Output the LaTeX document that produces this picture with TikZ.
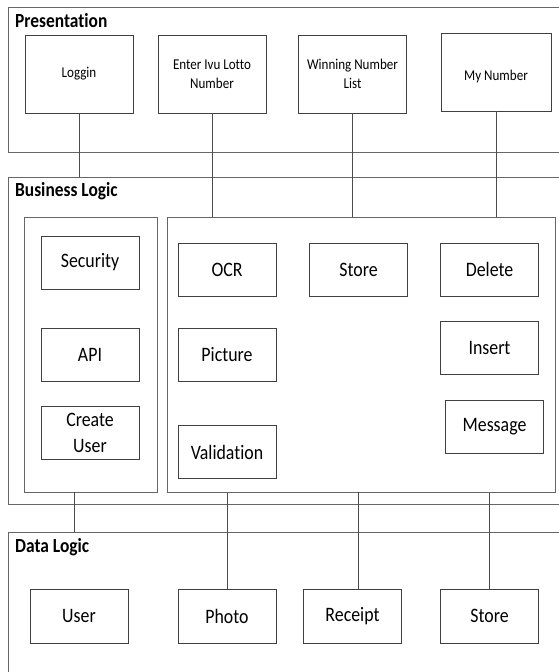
\documentclass[tikz,border=0pt]{standalone}
\usepackage{fontspec}
\setmainfont[FakeStretch=0.87, Ligatures=NoCommon]{Carlito}
\begin{document}
\begin{tikzpicture}[x=1pt,y=-1pt,
  frame/.style={draw=black!60, line width=0.9pt, anchor=north west, inner sep=0pt},
  pbox/.style={draw=black!75, line width=0.9pt, minimum width=108pt, minimum height=78pt,
    align=center, font=\fontsize{15}{19}\selectfont, inner sep=0pt},
  bbox/.style={draw=black!75, line width=0.9pt, minimum width=98pt, minimum height=53pt,
    align=center, font=\fontsize{20.5}{26}\selectfont, inner sep=0pt},
  title/.style={anchor=west, font=\fontsize{20}{22}\selectfont\bfseries, inner sep=0pt},
  link/.style={draw=black!70, line width=0.9pt}]
\useasboundingbox (0,0) rectangle (558,672);

% layer frames
\node[frame, minimum width=560pt, minimum height=145pt] (pres) at (8,7) {};
\node[frame, minimum width=560pt, minimum height=327pt] (biz) at (8,177) {};
\node[frame, minimum width=133pt, minimum height=275pt] (bleft) at (24,217) {};
\node[frame, minimum width=388pt, minimum height=275pt] (bright) at (167,217) {};
\node[frame, minimum width=560pt, minimum height=160pt] (data) at (8,532) {};

\node[title] (tpres) at (15,21) {Presentation};
\node[title] (tbiz) at (15,191) {Business Logic};
\node[title] (tdata) at (15,547) {Data Logic};

% presentation layer
\node[pbox] (loggin) at (79,74) {Loggin};
\node[pbox] (enter) at (212,74) {Enter Ivu Lotto\\Number};
\node[pbox] (winning) at (352.5,74) {Winning Number\\List};
\node[pbox, minimum width=110pt] (mynum) at (496,72) {\mbox{}\\My Number};

% business logic layer
\node[bbox] (security) at (90,262.5) {Security};
\node[bbox] (api) at (90,354.5) {API};
\node[bbox] (create) at (90,433) {Create\\User};
\node[bbox] (ocr) at (227,269.5) {OCR};
\node[bbox] (store) at (358.5,269.5) {Store};
\node[bbox] (delete) at (489.5,269.5) {Delete};
\node[bbox] (picture) at (227,354.5) {Picture};
\node[bbox] (insert) at (489.5,348) {Insert};
\node[bbox] (validation) at (227,452) {Validation};
\node[bbox] (message) at (494.5,426.5) {Message};

% data logic layer
\node[bbox, minimum height=54pt] (user) at (79,616) {User};
\node[bbox, minimum height=54pt] (photo) at (227,616) {Photo};
\node[bbox, minimum height=54pt] (receipt) at (352.5,616) {Receipt};
\node[bbox, minimum height=54pt] (dstore) at (489.5,616) {Store};

% connectors between layers
\draw[link] (loggin.south) -- (loggin.south |- biz.north);
\draw[link] (enter.south) -- (enter.south |- bright.north);
\draw[link] (winning.south) -- (winning.south |- bright.north);
\draw[link] (mynum.south) -- (mynum.south |- bright.north);

\coordinate (lfoot) at (74,492);
\coordinate (rfoot) at (358,492);
\draw[link] (lfoot) -- (lfoot |- data.north);
\draw[link] (photo.north |- bright.south) -- (photo.north);
\draw[link] (rfoot) -- (rfoot |- receipt.north);
\draw[link] (dstore.north |- bright.south) -- (dstore.north);
\end{tikzpicture}
\end{document}
